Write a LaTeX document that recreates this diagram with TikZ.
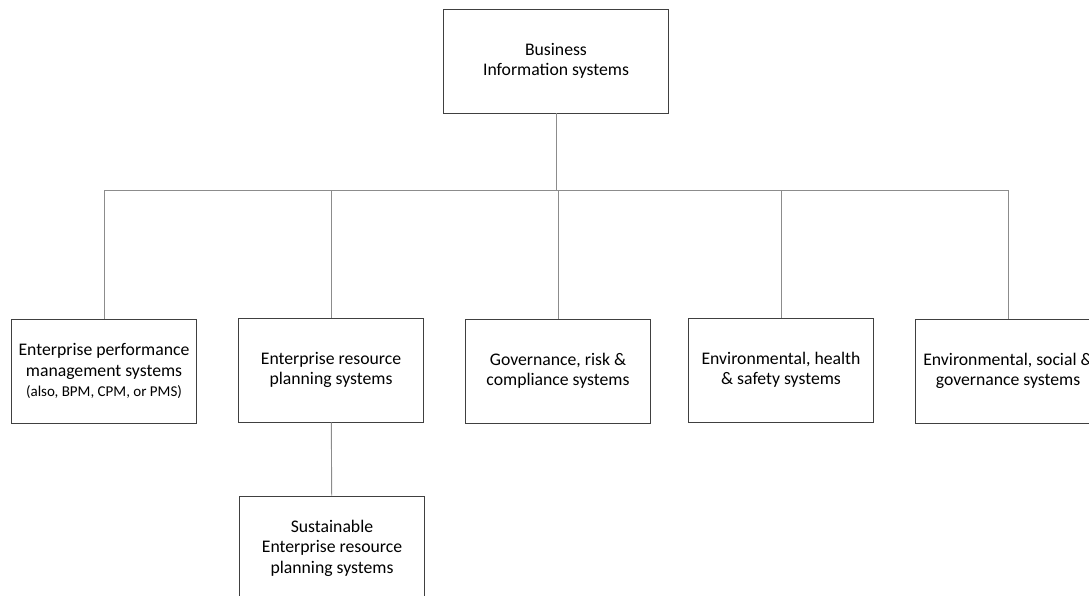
\documentclass[tikz,border=0pt]{standalone}
\usepackage{fontspec}
\setmainfont{Carlito}
\definecolor{boxline}{HTML}{404040}
\definecolor{linkline}{HTML}{8C8C8C}
\tikzset{
  sysbox/.style={draw=boxline, line width=0.9pt, minimum width=185pt, minimum height=104pt,
    inner sep=0pt, align=center, font=\fontsize{17.7}{20.5}\selectfont},
  link/.style={draw=linkline, line width=0.9pt}
}
\begin{document}
\begin{tikzpicture}[x=1pt, y=-1pt]
    \clip (0,0) rectangle (1089,596);
    \useasboundingbox (0,0) rectangle (1089,596);

    % Top box
    \node[sysbox, minimum width=225pt] (bis) at (556,61) {Business\\Information systems};
    \coordinate (bus) at (556,190);

    % Second level
    \node[sysbox] (epm) at (104,371) {Enterprise performance\\management systems\\{\fontsize{15}{19}\selectfont (also, BPM, CPM, or PMS)}};
    \node[sysbox] (erp) at (331,370) {Enterprise resource\\planning systems};
    \node[sysbox] (grc) at (558,371) {Governance, risk \&\\compliance systems};
    \node[sysbox] (ehs) at (781,370) {Environmental, health\\\& safety systems};
    \node[sysbox] (esg) at (1008,371) {Environmental, social \&\\governance systems};

    % Third level
    \node[sysbox] (serp) at (332,548) {Sustainable\\Enterprise resource\\planning systems};

    % Connectors
    \draw[link] (bis) -- (bus);
    \draw[link] (epm.north) |- (bus);
    \draw[link] (erp.north) |- (bus);
    \draw[link] (grc.north) |- (bus);
    \draw[link] (ehs.north) |- (bus);
    \draw[link] (esg.north) |- (bus);
    \draw[link] (erp) -- (serp);
\end{tikzpicture}
\end{document}
